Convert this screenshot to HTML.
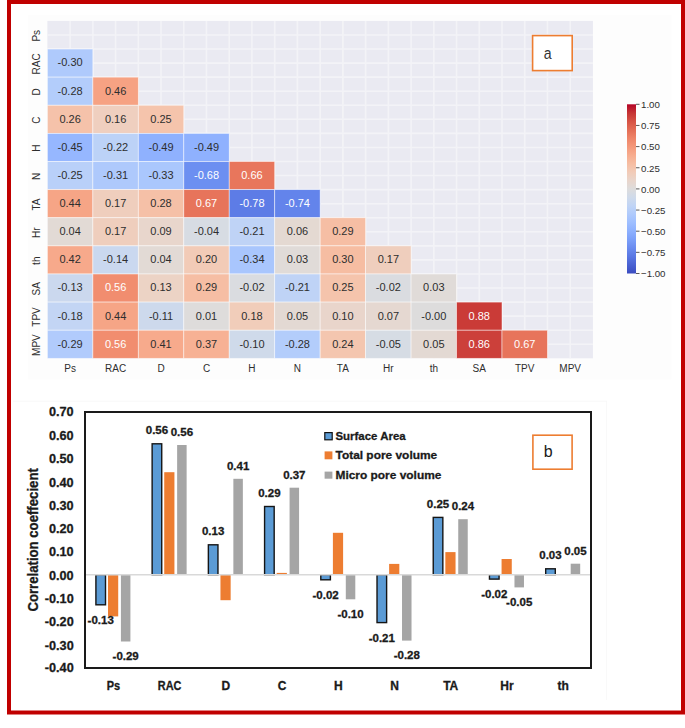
<!DOCTYPE html><html><head><meta charset="utf-8"><style>html,body{margin:0;padding:0;background:#fff;width:685px;height:728px;overflow:hidden}svg{display:block}text{font-family:"Liberation Sans",sans-serif}.b{stroke:#1a1a1a;stroke-width:0.3px}</style></head><body>
<svg width="685" height="728" viewBox="0 0 685 728">
<rect x="28" y="15" width="643.5" height="364.5" fill="#fdfdfd"/>
<path d="M13 401.2H606.6V700" stroke="#f6f6f6" stroke-width="0.8" fill="none"/>
<rect x="47.4" y="20.9" width="545.52" height="337.44" fill="#eaeaf2"/>
<path d="M70.13 20.9V358.34M47.4 34.96H592.92M92.86 20.9V358.34M47.4 49.02H592.92M115.59 20.9V358.34M47.4 63.08H592.92M138.32 20.9V358.34M47.4 77.14H592.92M161.05 20.9V358.34M47.4 91.20H592.92M183.78 20.9V358.34M47.4 105.26H592.92M206.51 20.9V358.34M47.4 119.32H592.92M229.24 20.9V358.34M47.4 133.38H592.92M251.97 20.9V358.34M47.4 147.44H592.92M274.70 20.9V358.34M47.4 161.50H592.92M297.43 20.9V358.34M47.4 175.56H592.92M320.16 20.9V358.34M47.4 189.62H592.92M342.89 20.9V358.34M47.4 203.68H592.92M365.62 20.9V358.34M47.4 217.74H592.92M388.35 20.9V358.34M47.4 231.80H592.92M411.08 20.9V358.34M47.4 245.86H592.92M433.81 20.9V358.34M47.4 259.92H592.92M456.54 20.9V358.34M47.4 273.98H592.92M479.27 20.9V358.34M47.4 288.04H592.92M502.00 20.9V358.34M47.4 302.10H592.92M524.73 20.9V358.34M47.4 316.16H592.92M547.46 20.9V358.34M47.4 330.22H592.92M570.19 20.9V358.34M47.4 344.28H592.92" stroke="#f3f3f7" stroke-width="1.6" fill="none"/>
<rect x="47.40" y="49.02" width="45.46" height="28.12" fill="#afcafc" stroke="#fff" stroke-opacity="0.6" stroke-width="0.8"/>
<rect x="47.40" y="77.14" width="45.46" height="28.12" fill="#b3cdfb" stroke="#fff" stroke-opacity="0.6" stroke-width="0.8"/>
<rect x="92.86" y="77.14" width="45.46" height="28.12" fill="#f6a283" stroke="#fff" stroke-opacity="0.6" stroke-width="0.8"/>
<rect x="47.40" y="105.26" width="45.46" height="28.12" fill="#f5c2aa" stroke="#fff" stroke-opacity="0.6" stroke-width="0.8"/>
<rect x="92.86" y="105.26" width="45.46" height="28.12" fill="#efcfbf" stroke="#fff" stroke-opacity="0.6" stroke-width="0.8"/>
<rect x="138.32" y="105.26" width="45.46" height="28.12" fill="#f5c4ac" stroke="#fff" stroke-opacity="0.6" stroke-width="0.8"/>
<rect x="47.40" y="133.38" width="45.46" height="28.12" fill="#96b7ff" stroke="#fff" stroke-opacity="0.6" stroke-width="0.8"/>
<rect x="92.86" y="133.38" width="45.46" height="28.12" fill="#bcd2f7" stroke="#fff" stroke-opacity="0.6" stroke-width="0.8"/>
<rect x="138.32" y="133.38" width="45.46" height="28.12" fill="#8fb1fe" stroke="#fff" stroke-opacity="0.6" stroke-width="0.8"/>
<rect x="183.78" y="133.38" width="45.46" height="28.12" fill="#8fb1fe" stroke="#fff" stroke-opacity="0.6" stroke-width="0.8"/>
<rect x="47.40" y="161.50" width="45.46" height="28.12" fill="#b9d0f9" stroke="#fff" stroke-opacity="0.6" stroke-width="0.8"/>
<rect x="92.86" y="161.50" width="45.46" height="28.12" fill="#aec9fc" stroke="#fff" stroke-opacity="0.6" stroke-width="0.8"/>
<rect x="138.32" y="161.50" width="45.46" height="28.12" fill="#aac7fd" stroke="#fff" stroke-opacity="0.6" stroke-width="0.8"/>
<rect x="183.78" y="161.50" width="45.46" height="28.12" fill="#6c8ff1" stroke="#fff" stroke-opacity="0.6" stroke-width="0.8"/>
<rect x="229.24" y="161.50" width="45.46" height="28.12" fill="#e8765c" stroke="#fff" stroke-opacity="0.6" stroke-width="0.8"/>
<rect x="47.40" y="189.62" width="45.46" height="28.12" fill="#f6a586" stroke="#fff" stroke-opacity="0.6" stroke-width="0.8"/>
<rect x="92.86" y="189.62" width="45.46" height="28.12" fill="#efcebd" stroke="#fff" stroke-opacity="0.6" stroke-width="0.8"/>
<rect x="138.32" y="189.62" width="45.46" height="28.12" fill="#f5c0a7" stroke="#fff" stroke-opacity="0.6" stroke-width="0.8"/>
<rect x="183.78" y="189.62" width="45.46" height="28.12" fill="#e7745b" stroke="#fff" stroke-opacity="0.6" stroke-width="0.8"/>
<rect x="229.24" y="189.62" width="45.46" height="28.12" fill="#5d7ce6" stroke="#fff" stroke-opacity="0.6" stroke-width="0.8"/>
<rect x="274.70" y="189.62" width="45.46" height="28.12" fill="#6384eb" stroke="#fff" stroke-opacity="0.6" stroke-width="0.8"/>
<rect x="47.40" y="217.74" width="45.46" height="28.12" fill="#e2dad5" stroke="#fff" stroke-opacity="0.6" stroke-width="0.8"/>
<rect x="92.86" y="217.74" width="45.46" height="28.12" fill="#efcebd" stroke="#fff" stroke-opacity="0.6" stroke-width="0.8"/>
<rect x="138.32" y="217.74" width="45.46" height="28.12" fill="#e8d6cc" stroke="#fff" stroke-opacity="0.6" stroke-width="0.8"/>
<rect x="183.78" y="217.74" width="45.46" height="28.12" fill="#d7dce3" stroke="#fff" stroke-opacity="0.6" stroke-width="0.8"/>
<rect x="229.24" y="217.74" width="45.46" height="28.12" fill="#bfd3f6" stroke="#fff" stroke-opacity="0.6" stroke-width="0.8"/>
<rect x="274.70" y="217.74" width="45.46" height="28.12" fill="#e4d9d2" stroke="#fff" stroke-opacity="0.6" stroke-width="0.8"/>
<rect x="320.16" y="217.74" width="45.46" height="28.12" fill="#f6bea4" stroke="#fff" stroke-opacity="0.6" stroke-width="0.8"/>
<rect x="47.40" y="245.86" width="45.46" height="28.12" fill="#f7a98b" stroke="#fff" stroke-opacity="0.6" stroke-width="0.8"/>
<rect x="92.86" y="245.86" width="45.46" height="28.12" fill="#cad8ef" stroke="#fff" stroke-opacity="0.6" stroke-width="0.8"/>
<rect x="138.32" y="245.86" width="45.46" height="28.12" fill="#e2dad5" stroke="#fff" stroke-opacity="0.6" stroke-width="0.8"/>
<rect x="183.78" y="245.86" width="45.46" height="28.12" fill="#f2cbb7" stroke="#fff" stroke-opacity="0.6" stroke-width="0.8"/>
<rect x="229.24" y="245.86" width="45.46" height="28.12" fill="#a9c6fd" stroke="#fff" stroke-opacity="0.6" stroke-width="0.8"/>
<rect x="274.70" y="245.86" width="45.46" height="28.12" fill="#e0dbd8" stroke="#fff" stroke-opacity="0.6" stroke-width="0.8"/>
<rect x="320.16" y="245.86" width="45.46" height="28.12" fill="#f6bda2" stroke="#fff" stroke-opacity="0.6" stroke-width="0.8"/>
<rect x="365.62" y="245.86" width="45.46" height="28.12" fill="#efcebd" stroke="#fff" stroke-opacity="0.6" stroke-width="0.8"/>
<rect x="47.40" y="273.98" width="45.46" height="28.12" fill="#cbd8ee" stroke="#fff" stroke-opacity="0.6" stroke-width="0.8"/>
<rect x="92.86" y="273.98" width="45.46" height="28.12" fill="#f18d6f" stroke="#fff" stroke-opacity="0.6" stroke-width="0.8"/>
<rect x="138.32" y="273.98" width="45.46" height="28.12" fill="#ecd3c5" stroke="#fff" stroke-opacity="0.6" stroke-width="0.8"/>
<rect x="183.78" y="273.98" width="45.46" height="28.12" fill="#f6bea4" stroke="#fff" stroke-opacity="0.6" stroke-width="0.8"/>
<rect x="229.24" y="273.98" width="45.46" height="28.12" fill="#dadce0" stroke="#fff" stroke-opacity="0.6" stroke-width="0.8"/>
<rect x="274.70" y="273.98" width="45.46" height="28.12" fill="#bfd3f6" stroke="#fff" stroke-opacity="0.6" stroke-width="0.8"/>
<rect x="320.16" y="273.98" width="45.46" height="28.12" fill="#f5c4ac" stroke="#fff" stroke-opacity="0.6" stroke-width="0.8"/>
<rect x="365.62" y="273.98" width="45.46" height="28.12" fill="#dadce0" stroke="#fff" stroke-opacity="0.6" stroke-width="0.8"/>
<rect x="411.08" y="273.98" width="45.46" height="28.12" fill="#e0dbd8" stroke="#fff" stroke-opacity="0.6" stroke-width="0.8"/>
<rect x="47.40" y="302.10" width="45.46" height="28.12" fill="#c3d5f4" stroke="#fff" stroke-opacity="0.6" stroke-width="0.8"/>
<rect x="92.86" y="302.10" width="45.46" height="28.12" fill="#f6a586" stroke="#fff" stroke-opacity="0.6" stroke-width="0.8"/>
<rect x="138.32" y="302.10" width="45.46" height="28.12" fill="#cdd9ec" stroke="#fff" stroke-opacity="0.6" stroke-width="0.8"/>
<rect x="183.78" y="302.10" width="45.46" height="28.12" fill="#dedcdb" stroke="#fff" stroke-opacity="0.6" stroke-width="0.8"/>
<rect x="229.24" y="302.10" width="45.46" height="28.12" fill="#f1cdba" stroke="#fff" stroke-opacity="0.6" stroke-width="0.8"/>
<rect x="274.70" y="302.10" width="45.46" height="28.12" fill="#e3d9d3" stroke="#fff" stroke-opacity="0.6" stroke-width="0.8"/>
<rect x="320.16" y="302.10" width="45.46" height="28.12" fill="#e9d5cb" stroke="#fff" stroke-opacity="0.6" stroke-width="0.8"/>
<rect x="365.62" y="302.10" width="45.46" height="28.12" fill="#e5d8d1" stroke="#fff" stroke-opacity="0.6" stroke-width="0.8"/>
<rect x="411.08" y="302.10" width="45.46" height="28.12" fill="#dddcdc" stroke="#fff" stroke-opacity="0.6" stroke-width="0.8"/>
<rect x="456.54" y="302.10" width="45.46" height="28.12" fill="#ca3b37" stroke="#fff" stroke-opacity="0.6" stroke-width="0.8"/>
<rect x="47.40" y="330.22" width="45.46" height="28.12" fill="#b1cbfc" stroke="#fff" stroke-opacity="0.6" stroke-width="0.8"/>
<rect x="92.86" y="330.22" width="45.46" height="28.12" fill="#f18d6f" stroke="#fff" stroke-opacity="0.6" stroke-width="0.8"/>
<rect x="138.32" y="330.22" width="45.46" height="28.12" fill="#f7aa8c" stroke="#fff" stroke-opacity="0.6" stroke-width="0.8"/>
<rect x="183.78" y="330.22" width="45.46" height="28.12" fill="#f7b194" stroke="#fff" stroke-opacity="0.6" stroke-width="0.8"/>
<rect x="229.24" y="330.22" width="45.46" height="28.12" fill="#cfdaea" stroke="#fff" stroke-opacity="0.6" stroke-width="0.8"/>
<rect x="274.70" y="330.22" width="45.46" height="28.12" fill="#b3cdfb" stroke="#fff" stroke-opacity="0.6" stroke-width="0.8"/>
<rect x="320.16" y="330.22" width="45.46" height="28.12" fill="#f4c6af" stroke="#fff" stroke-opacity="0.6" stroke-width="0.8"/>
<rect x="365.62" y="330.22" width="45.46" height="28.12" fill="#d6dce4" stroke="#fff" stroke-opacity="0.6" stroke-width="0.8"/>
<rect x="411.08" y="330.22" width="45.46" height="28.12" fill="#e3d9d3" stroke="#fff" stroke-opacity="0.6" stroke-width="0.8"/>
<rect x="456.54" y="330.22" width="45.46" height="28.12" fill="#cc403a" stroke="#fff" stroke-opacity="0.6" stroke-width="0.8"/>
<rect x="502.00" y="330.22" width="45.46" height="28.12" fill="#e7745b" stroke="#fff" stroke-opacity="0.6" stroke-width="0.8"/>
<text x="70.13" y="66.48" font-size="11" fill="#2e2e2e" text-anchor="middle">-0.30</text>
<text x="70.13" y="94.60" font-size="11" fill="#2e2e2e" text-anchor="middle">-0.28</text>
<text x="115.59" y="94.60" font-size="11" fill="#2e2e2e" text-anchor="middle">0.46</text>
<text x="70.13" y="122.72" font-size="11" fill="#2e2e2e" text-anchor="middle">0.26</text>
<text x="115.59" y="122.72" font-size="11" fill="#2e2e2e" text-anchor="middle">0.16</text>
<text x="161.05" y="122.72" font-size="11" fill="#2e2e2e" text-anchor="middle">0.25</text>
<text x="70.13" y="150.84" font-size="11" fill="#2e2e2e" text-anchor="middle">-0.45</text>
<text x="115.59" y="150.84" font-size="11" fill="#2e2e2e" text-anchor="middle">-0.22</text>
<text x="161.05" y="150.84" font-size="11" fill="#2e2e2e" text-anchor="middle">-0.49</text>
<text x="206.51" y="150.84" font-size="11" fill="#2e2e2e" text-anchor="middle">-0.49</text>
<text x="70.13" y="178.96" font-size="11" fill="#2e2e2e" text-anchor="middle">-0.25</text>
<text x="115.59" y="178.96" font-size="11" fill="#2e2e2e" text-anchor="middle">-0.31</text>
<text x="161.05" y="178.96" font-size="11" fill="#2e2e2e" text-anchor="middle">-0.33</text>
<text x="206.51" y="178.96" font-size="11" fill="#fff" text-anchor="middle">-0.68</text>
<text x="251.97" y="178.96" font-size="11" fill="#fff" text-anchor="middle">0.66</text>
<text x="70.13" y="207.08" font-size="11" fill="#2e2e2e" text-anchor="middle">0.44</text>
<text x="115.59" y="207.08" font-size="11" fill="#2e2e2e" text-anchor="middle">0.17</text>
<text x="161.05" y="207.08" font-size="11" fill="#2e2e2e" text-anchor="middle">0.28</text>
<text x="206.51" y="207.08" font-size="11" fill="#fff" text-anchor="middle">0.67</text>
<text x="251.97" y="207.08" font-size="11" fill="#fff" text-anchor="middle">-0.78</text>
<text x="297.43" y="207.08" font-size="11" fill="#fff" text-anchor="middle">-0.74</text>
<text x="70.13" y="235.20" font-size="11" fill="#2e2e2e" text-anchor="middle">0.04</text>
<text x="115.59" y="235.20" font-size="11" fill="#2e2e2e" text-anchor="middle">0.17</text>
<text x="161.05" y="235.20" font-size="11" fill="#2e2e2e" text-anchor="middle">0.09</text>
<text x="206.51" y="235.20" font-size="11" fill="#2e2e2e" text-anchor="middle">-0.04</text>
<text x="251.97" y="235.20" font-size="11" fill="#2e2e2e" text-anchor="middle">-0.21</text>
<text x="297.43" y="235.20" font-size="11" fill="#2e2e2e" text-anchor="middle">0.06</text>
<text x="342.89" y="235.20" font-size="11" fill="#2e2e2e" text-anchor="middle">0.29</text>
<text x="70.13" y="263.32" font-size="11" fill="#2e2e2e" text-anchor="middle">0.42</text>
<text x="115.59" y="263.32" font-size="11" fill="#2e2e2e" text-anchor="middle">-0.14</text>
<text x="161.05" y="263.32" font-size="11" fill="#2e2e2e" text-anchor="middle">0.04</text>
<text x="206.51" y="263.32" font-size="11" fill="#2e2e2e" text-anchor="middle">0.20</text>
<text x="251.97" y="263.32" font-size="11" fill="#2e2e2e" text-anchor="middle">-0.34</text>
<text x="297.43" y="263.32" font-size="11" fill="#2e2e2e" text-anchor="middle">0.03</text>
<text x="342.89" y="263.32" font-size="11" fill="#2e2e2e" text-anchor="middle">0.30</text>
<text x="388.35" y="263.32" font-size="11" fill="#2e2e2e" text-anchor="middle">0.17</text>
<text x="70.13" y="291.44" font-size="11" fill="#2e2e2e" text-anchor="middle">-0.13</text>
<text x="115.59" y="291.44" font-size="11" fill="#fff" text-anchor="middle">0.56</text>
<text x="161.05" y="291.44" font-size="11" fill="#2e2e2e" text-anchor="middle">0.13</text>
<text x="206.51" y="291.44" font-size="11" fill="#2e2e2e" text-anchor="middle">0.29</text>
<text x="251.97" y="291.44" font-size="11" fill="#2e2e2e" text-anchor="middle">-0.02</text>
<text x="297.43" y="291.44" font-size="11" fill="#2e2e2e" text-anchor="middle">-0.21</text>
<text x="342.89" y="291.44" font-size="11" fill="#2e2e2e" text-anchor="middle">0.25</text>
<text x="388.35" y="291.44" font-size="11" fill="#2e2e2e" text-anchor="middle">-0.02</text>
<text x="433.81" y="291.44" font-size="11" fill="#2e2e2e" text-anchor="middle">0.03</text>
<text x="70.13" y="319.56" font-size="11" fill="#2e2e2e" text-anchor="middle">-0.18</text>
<text x="115.59" y="319.56" font-size="11" fill="#2e2e2e" text-anchor="middle">0.44</text>
<text x="161.05" y="319.56" font-size="11" fill="#2e2e2e" text-anchor="middle">-0.11</text>
<text x="206.51" y="319.56" font-size="11" fill="#2e2e2e" text-anchor="middle">0.01</text>
<text x="251.97" y="319.56" font-size="11" fill="#2e2e2e" text-anchor="middle">0.18</text>
<text x="297.43" y="319.56" font-size="11" fill="#2e2e2e" text-anchor="middle">0.05</text>
<text x="342.89" y="319.56" font-size="11" fill="#2e2e2e" text-anchor="middle">0.10</text>
<text x="388.35" y="319.56" font-size="11" fill="#2e2e2e" text-anchor="middle">0.07</text>
<text x="433.81" y="319.56" font-size="11" fill="#2e2e2e" text-anchor="middle">-0.00</text>
<text x="479.27" y="319.56" font-size="11" fill="#fff" text-anchor="middle">0.88</text>
<text x="70.13" y="347.68" font-size="11" fill="#2e2e2e" text-anchor="middle">-0.29</text>
<text x="115.59" y="347.68" font-size="11" fill="#fff" text-anchor="middle">0.56</text>
<text x="161.05" y="347.68" font-size="11" fill="#2e2e2e" text-anchor="middle">0.41</text>
<text x="206.51" y="347.68" font-size="11" fill="#2e2e2e" text-anchor="middle">0.37</text>
<text x="251.97" y="347.68" font-size="11" fill="#2e2e2e" text-anchor="middle">-0.10</text>
<text x="297.43" y="347.68" font-size="11" fill="#2e2e2e" text-anchor="middle">-0.28</text>
<text x="342.89" y="347.68" font-size="11" fill="#2e2e2e" text-anchor="middle">0.24</text>
<text x="388.35" y="347.68" font-size="11" fill="#2e2e2e" text-anchor="middle">-0.05</text>
<text x="433.81" y="347.68" font-size="11" fill="#2e2e2e" text-anchor="middle">0.05</text>
<text x="479.27" y="347.68" font-size="11" fill="#fff" text-anchor="middle">0.86</text>
<text x="524.73" y="347.68" font-size="11" fill="#fff" text-anchor="middle">0.67</text>
<text transform="translate(39.6 35.76) rotate(-90)" font-size="10" fill="#2e2e2e" text-anchor="middle">Ps</text>
<text transform="translate(39.6 63.88) rotate(-90)" font-size="10" fill="#2e2e2e" text-anchor="middle">RAC</text>
<text transform="translate(39.6 92.00) rotate(-90)" font-size="10" fill="#2e2e2e" text-anchor="middle">D</text>
<text transform="translate(39.6 120.12) rotate(-90)" font-size="10" fill="#2e2e2e" text-anchor="middle">C</text>
<text transform="translate(39.6 148.24) rotate(-90)" font-size="10" fill="#2e2e2e" text-anchor="middle">H</text>
<text transform="translate(39.6 176.36) rotate(-90)" font-size="10" fill="#2e2e2e" text-anchor="middle">N</text>
<text transform="translate(39.6 204.48) rotate(-90)" font-size="10" fill="#2e2e2e" text-anchor="middle">TA</text>
<text transform="translate(39.6 232.60) rotate(-90)" font-size="10" fill="#2e2e2e" text-anchor="middle">Hr</text>
<text transform="translate(39.6 260.72) rotate(-90)" font-size="10" fill="#2e2e2e" text-anchor="middle">th</text>
<text transform="translate(39.6 288.84) rotate(-90)" font-size="10" fill="#2e2e2e" text-anchor="middle">SA</text>
<text transform="translate(39.6 316.96) rotate(-90)" font-size="10" fill="#2e2e2e" text-anchor="middle">TPV</text>
<text transform="translate(39.6 345.08) rotate(-90)" font-size="10" fill="#2e2e2e" text-anchor="middle">MPV</text>
<text x="70.13" y="371.8" font-size="10" fill="#2e2e2e" text-anchor="middle">Ps</text>
<text x="115.59" y="371.8" font-size="10" fill="#2e2e2e" text-anchor="middle">RAC</text>
<text x="161.05" y="371.8" font-size="10" fill="#2e2e2e" text-anchor="middle">D</text>
<text x="206.51" y="371.8" font-size="10" fill="#2e2e2e" text-anchor="middle">C</text>
<text x="251.97" y="371.8" font-size="10" fill="#2e2e2e" text-anchor="middle">H</text>
<text x="297.43" y="371.8" font-size="10" fill="#2e2e2e" text-anchor="middle">N</text>
<text x="342.89" y="371.8" font-size="10" fill="#2e2e2e" text-anchor="middle">TA</text>
<text x="388.35" y="371.8" font-size="10" fill="#2e2e2e" text-anchor="middle">Hr</text>
<text x="433.81" y="371.8" font-size="10" fill="#2e2e2e" text-anchor="middle">th</text>
<text x="479.27" y="371.8" font-size="10" fill="#2e2e2e" text-anchor="middle">SA</text>
<text x="524.73" y="371.8" font-size="10" fill="#2e2e2e" text-anchor="middle">TPV</text>
<text x="570.19" y="371.8" font-size="10" fill="#2e2e2e" text-anchor="middle">MPV</text>
<defs><linearGradient id="cb" x1="0" y1="0" x2="0" y2="1"><stop offset="0.000" stop-color="#b40426"/><stop offset="0.050" stop-color="#c53334"/><stop offset="0.100" stop-color="#d65244"/><stop offset="0.150" stop-color="#e36c55"/><stop offset="0.200" stop-color="#ee8468"/><stop offset="0.250" stop-color="#f4987a"/><stop offset="0.300" stop-color="#f7ac8e"/><stop offset="0.350" stop-color="#f6bda2"/><stop offset="0.400" stop-color="#f2cbb7"/><stop offset="0.450" stop-color="#e9d5cb"/><stop offset="0.500" stop-color="#dddcdc"/><stop offset="0.550" stop-color="#cfdaea"/><stop offset="0.600" stop-color="#c0d4f5"/><stop offset="0.650" stop-color="#afcafc"/><stop offset="0.700" stop-color="#9ebeff"/><stop offset="0.750" stop-color="#8db0fe"/><stop offset="0.800" stop-color="#7b9ff9"/><stop offset="0.850" stop-color="#6a8bef"/><stop offset="0.900" stop-color="#5977e3"/><stop offset="0.950" stop-color="#4961d2"/><stop offset="1.000" stop-color="#3b4cc0"/></linearGradient></defs>
<rect x="627" y="104.3" width="9" height="169.2" fill="url(#cb)"/>
<path d="M636 104.30h3.5" stroke="#2e2e2e" stroke-width="0.8"/>
<text x="641" y="108.10" font-size="9.7" fill="#2e2e2e">1.00</text>
<path d="M636 125.45h3.5" stroke="#2e2e2e" stroke-width="0.8"/>
<text x="641" y="129.25" font-size="9.7" fill="#2e2e2e">0.75</text>
<path d="M636 146.60h3.5" stroke="#2e2e2e" stroke-width="0.8"/>
<text x="641" y="150.40" font-size="9.7" fill="#2e2e2e">0.50</text>
<path d="M636 167.75h3.5" stroke="#2e2e2e" stroke-width="0.8"/>
<text x="641" y="171.55" font-size="9.7" fill="#2e2e2e">0.25</text>
<path d="M636 188.90h3.5" stroke="#2e2e2e" stroke-width="0.8"/>
<text x="641" y="192.70" font-size="9.7" fill="#2e2e2e">0.00</text>
<path d="M636 210.05h3.5" stroke="#2e2e2e" stroke-width="0.8"/>
<text x="641" y="213.85" font-size="9.7" fill="#2e2e2e">−0.25</text>
<path d="M636 231.20h3.5" stroke="#2e2e2e" stroke-width="0.8"/>
<text x="641" y="235.00" font-size="9.7" fill="#2e2e2e">−0.50</text>
<path d="M636 252.35h3.5" stroke="#2e2e2e" stroke-width="0.8"/>
<text x="641" y="256.15" font-size="9.7" fill="#2e2e2e">−0.75</text>
<path d="M636 273.50h3.5" stroke="#2e2e2e" stroke-width="0.8"/>
<text x="641" y="277.30" font-size="9.7" fill="#2e2e2e">−1.00</text>
<rect x="532.6" y="35.6" width="39.6" height="35" fill="#fff" stroke="#ed7d31" stroke-width="1.6"/>
<text transform="translate(547.7 58.7) scale(0.83 1)" font-size="17" fill="#333" text-anchor="middle">a</text>
<rect x="95.91" y="574.70" width="9.60" height="30.10" fill="#5b9bd5" stroke="#151515" stroke-width="1.4"/>
<rect x="108.01" y="574.70" width="10.2" height="41.70" fill="#ed7d31"/>
<rect x="120.91" y="574.70" width="9.5" height="66.80" fill="#a5a5a5"/>
<rect x="152.13" y="443.80" width="9.60" height="130.90" fill="#5b9bd5" stroke="#151515" stroke-width="1.4"/>
<rect x="164.23" y="472.20" width="10.2" height="102.50" fill="#ed7d31"/>
<rect x="177.13" y="445.00" width="9.5" height="129.70" fill="#a5a5a5"/>
<rect x="208.36" y="544.80" width="9.60" height="29.90" fill="#5b9bd5" stroke="#151515" stroke-width="1.4"/>
<rect x="220.46" y="574.70" width="10.2" height="25.50" fill="#ed7d31"/>
<rect x="233.36" y="478.80" width="9.5" height="95.90" fill="#a5a5a5"/>
<rect x="264.58" y="506.50" width="9.60" height="68.20" fill="#5b9bd5" stroke="#151515" stroke-width="1.4"/>
<rect x="276.68" y="572.90" width="10.2" height="1.80" fill="#ed7d31"/>
<rect x="289.58" y="487.70" width="9.5" height="87.00" fill="#a5a5a5"/>
<rect x="320.80" y="574.70" width="9.60" height="5.10" fill="#5b9bd5" stroke="#151515" stroke-width="1.4"/>
<rect x="332.90" y="532.80" width="10.2" height="41.90" fill="#ed7d31"/>
<rect x="345.80" y="574.70" width="9.5" height="24.60" fill="#a5a5a5"/>
<rect x="377.02" y="574.70" width="9.60" height="47.90" fill="#5b9bd5" stroke="#151515" stroke-width="1.4"/>
<rect x="389.12" y="563.90" width="10.2" height="10.80" fill="#ed7d31"/>
<rect x="402.02" y="574.70" width="9.5" height="65.90" fill="#a5a5a5"/>
<rect x="433.24" y="517.40" width="9.60" height="57.30" fill="#5b9bd5" stroke="#151515" stroke-width="1.4"/>
<rect x="445.34" y="552.10" width="10.2" height="22.60" fill="#ed7d31"/>
<rect x="458.24" y="519.20" width="9.5" height="55.50" fill="#a5a5a5"/>
<rect x="489.47" y="574.70" width="9.60" height="4.40" fill="#5b9bd5" stroke="#151515" stroke-width="1.4"/>
<rect x="501.57" y="559.00" width="10.2" height="15.70" fill="#ed7d31"/>
<rect x="514.47" y="574.70" width="9.5" height="12.70" fill="#a5a5a5"/>
<rect x="545.69" y="568.80" width="9.60" height="5.90" fill="#5b9bd5" stroke="#151515" stroke-width="1.4"/>
<rect x="570.69" y="563.70" width="9.5" height="11.00" fill="#a5a5a5"/>
<path d="M85 574.7H591" stroke="#d9d9d9" stroke-width="1.6"/>
<text x="100.71" y="624.00" font-size="11.5" font-weight="bold" fill="#1a1a1a" class="b" text-anchor="middle">-0.13</text>
<text x="125.66" y="660.00" font-size="11.5" font-weight="bold" fill="#1a1a1a" class="b" text-anchor="middle">-0.29</text>
<text x="156.93" y="434.30" font-size="11.5" font-weight="bold" fill="#1a1a1a" class="b" text-anchor="middle">0.56</text>
<text x="181.88" y="436.20" font-size="11.5" font-weight="bold" fill="#1a1a1a" class="b" text-anchor="middle">0.56</text>
<text x="213.16" y="535.30" font-size="11.5" font-weight="bold" fill="#1a1a1a" class="b" text-anchor="middle">0.13</text>
<text x="238.11" y="470.00" font-size="11.5" font-weight="bold" fill="#1a1a1a" class="b" text-anchor="middle">0.41</text>
<text x="269.38" y="497.00" font-size="11.5" font-weight="bold" fill="#1a1a1a" class="b" text-anchor="middle">0.29</text>
<text x="294.33" y="478.90" font-size="11.5" font-weight="bold" fill="#1a1a1a" class="b" text-anchor="middle">0.37</text>
<text x="325.60" y="599.00" font-size="11.5" font-weight="bold" fill="#1a1a1a" class="b" text-anchor="middle">-0.02</text>
<text x="350.55" y="617.80" font-size="11.5" font-weight="bold" fill="#1a1a1a" class="b" text-anchor="middle">-0.10</text>
<text x="381.82" y="641.80" font-size="11.5" font-weight="bold" fill="#1a1a1a" class="b" text-anchor="middle">-0.21</text>
<text x="406.77" y="659.10" font-size="11.5" font-weight="bold" fill="#1a1a1a" class="b" text-anchor="middle">-0.28</text>
<text x="438.04" y="507.90" font-size="11.5" font-weight="bold" fill="#1a1a1a" class="b" text-anchor="middle">0.25</text>
<text x="462.99" y="510.40" font-size="11.5" font-weight="bold" fill="#1a1a1a" class="b" text-anchor="middle">0.24</text>
<text x="494.27" y="598.30" font-size="11.5" font-weight="bold" fill="#1a1a1a" class="b" text-anchor="middle">-0.02</text>
<text x="519.22" y="605.90" font-size="11.5" font-weight="bold" fill="#1a1a1a" class="b" text-anchor="middle">-0.05</text>
<text x="550.49" y="559.30" font-size="11.5" font-weight="bold" fill="#1a1a1a" class="b" text-anchor="middle">0.03</text>
<text x="575.44" y="554.90" font-size="11.5" font-weight="bold" fill="#1a1a1a" class="b" text-anchor="middle">0.05</text>
<rect x="85" y="412" width="506" height="256" fill="none" stroke="#1a1a1a" stroke-width="2"/>
<text x="73.7" y="416.00" font-size="12.7" font-weight="bold" fill="#1a1a1a" class="b" text-anchor="end">0.70</text>
<text x="73.7" y="439.90" font-size="12.7" font-weight="bold" fill="#1a1a1a" class="b" text-anchor="end">0.60</text>
<text x="73.7" y="463.40" font-size="12.7" font-weight="bold" fill="#1a1a1a" class="b" text-anchor="end">0.50</text>
<text x="73.7" y="486.70" font-size="12.7" font-weight="bold" fill="#1a1a1a" class="b" text-anchor="end">0.40</text>
<text x="73.7" y="510.00" font-size="12.7" font-weight="bold" fill="#1a1a1a" class="b" text-anchor="end">0.30</text>
<text x="73.7" y="533.10" font-size="12.7" font-weight="bold" fill="#1a1a1a" class="b" text-anchor="end">0.20</text>
<text x="73.7" y="556.00" font-size="12.7" font-weight="bold" fill="#1a1a1a" class="b" text-anchor="end">0.10</text>
<text x="73.7" y="579.80" font-size="12.7" font-weight="bold" fill="#1a1a1a" class="b" text-anchor="end">0.00</text>
<text x="73.7" y="603.00" font-size="12.7" font-weight="bold" fill="#1a1a1a" class="b" text-anchor="end">-0.10</text>
<text x="73.7" y="626.00" font-size="12.7" font-weight="bold" fill="#1a1a1a" class="b" text-anchor="end">-0.20</text>
<text x="73.7" y="649.50" font-size="12.7" font-weight="bold" fill="#1a1a1a" class="b" text-anchor="end">-0.30</text>
<text x="73.7" y="672.40" font-size="12.7" font-weight="bold" fill="#1a1a1a" class="b" text-anchor="end">-0.40</text>
<text transform="translate(37.9 539.9) rotate(-90)" font-size="14.4" font-weight="bold" fill="#1a1a1a" class="b" text-anchor="middle" textLength="143.4" lengthAdjust="spacingAndGlyphs">Correlation coeffecient</text>
<text x="113.41" y="690.4" font-size="12" font-weight="bold" fill="#1a1a1a" class="b" text-anchor="middle" textLength="13.4" lengthAdjust="spacingAndGlyphs">Ps</text>
<text x="169.63" y="690.4" font-size="12" font-weight="bold" fill="#1a1a1a" class="b" text-anchor="middle" textLength="23.6" lengthAdjust="spacingAndGlyphs">RAC</text>
<text x="225.86" y="690.4" font-size="12" font-weight="bold" fill="#1a1a1a" class="b" text-anchor="middle">D</text>
<text x="282.08" y="690.4" font-size="12" font-weight="bold" fill="#1a1a1a" class="b" text-anchor="middle">C</text>
<text x="338.30" y="690.4" font-size="12" font-weight="bold" fill="#1a1a1a" class="b" text-anchor="middle">H</text>
<text x="394.52" y="690.4" font-size="12" font-weight="bold" fill="#1a1a1a" class="b" text-anchor="middle">N</text>
<text x="450.74" y="690.4" font-size="12" font-weight="bold" fill="#1a1a1a" class="b" text-anchor="middle">TA</text>
<text x="506.97" y="690.4" font-size="12" font-weight="bold" fill="#1a1a1a" class="b" text-anchor="middle">Hr</text>
<text x="563.19" y="690.4" font-size="12" font-weight="bold" fill="#1a1a1a" class="b" text-anchor="middle">th</text>
<rect x="324.8" y="432.6" width="7.4" height="7.2" fill="#5b9bd5" stroke="#111" stroke-width="1.2"/>
<rect x="324.6" y="451.4" width="7.8" height="7.9" fill="#ed7d31"/>
<rect x="324.6" y="471.6" width="7.8" height="7.1" fill="#a5a5a5"/>
<text x="335.5" y="439.9" font-size="11.7" font-weight="bold" fill="#1a1a1a" class="b" textLength="70.1" lengthAdjust="spacingAndGlyphs">Surface Area</text>
<text x="335.5" y="459.4" font-size="11.7" font-weight="bold" fill="#1a1a1a" class="b" textLength="101.7" lengthAdjust="spacingAndGlyphs">Total pore volume</text>
<text x="335.5" y="479.1" font-size="11.7" font-weight="bold" fill="#1a1a1a" class="b" textLength="105.9" lengthAdjust="spacingAndGlyphs">Micro pore volume</text>
<rect x="532.9" y="435.2" width="39.2" height="34" fill="#fff" stroke="#ed7d31" stroke-width="1.6"/>
<text x="548.3" y="457.2" font-size="16" fill="#1a1a1a" text-anchor="middle">b</text>
<rect x="9" y="2" width="674" height="710.5" fill="none" stroke="#c00000" stroke-width="4"/>
</svg></body></html>
